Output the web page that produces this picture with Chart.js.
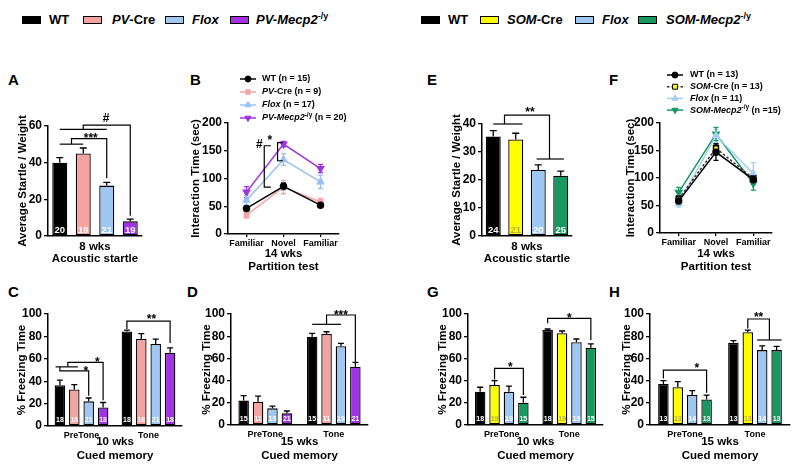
<!DOCTYPE html>
<html>
<head>
<meta charset="utf-8">
<script src="https://cdn.jsdelivr.net/npm/chart.js@4.4.1/dist/chart.umd.min.js"></script>
<style>
    body { margin: 0; background: #fff; }
    #fig { position: relative; width: 799px; height: 472px; overflow: hidden; font-family: "Liberation Sans", Arial, sans-serif; }
    #fig canvas { position: absolute; }
    .box { position: absolute; top: 16px; width: 17px; height: 6px; border: 1px solid #000; }
    .key { position: absolute; top: 12px; font-size: 13px; font-weight: bold; line-height: 16px; white-space: nowrap; }
    .key sup { font-size: 9px; line-height: 0; font-style: normal; }
    .tag { position: absolute; font-size: 15px; font-weight: bold; line-height: 18px; }
</style>
</head>
<body>
<div id="fig">
    <div class="box" style="left:22px;background:#000"></div><div class="key" style="left:49px">WT</div>
    <div class="box" style="left:83px;background:#f5a3a1"></div><div class="key" style="left:112px"><i>PV</i>-Cre</div>
    <div class="box" style="left:165px;background:#9fc7f2"></div><div class="key" style="left:192px"><i>Flox</i></div>
    <div class="box" style="left:230px;background:#a233e4"></div><div class="key" style="left:256px"><i>PV-Mecp2</i><sup>-/y</sup></div>

    <div class="box" style="left:421px;background:#000"></div><div class="key" style="left:448px">WT</div>
    <div class="box" style="left:480px;background:#ffff00"></div><div class="key" style="left:507px"><i>SOM</i>-Cre</div>
    <div class="box" style="left:575px;background:#9fc7f2"></div><div class="key" style="left:602px"><i>Flox</i></div>
    <div class="box" style="left:638px;background:#16985f"></div><div class="key" style="left:666px"><i>SOM-Mecp2</i><sup>-/y</sup></div>

    <div class="tag" style="left:8px;top:71px">A</div>
    <div class="tag" style="left:190px;top:71px">B</div>
    <div class="tag" style="left:427px;top:71px">E</div>
    <div class="tag" style="left:609px;top:71px">F</div>
    <div class="tag" style="left:8px;top:283px">C</div>
    <div class="tag" style="left:187px;top:283px">D</div>
    <div class="tag" style="left:427px;top:283px">G</div>
    <div class="tag" style="left:609px;top:283px">H</div>
</div>
<script>
// groups
const pvGroups = ["WT", "PV-Cre", "Flox", "PV-Mecp2"];
const somGroups = ["WT", "SOM-Cre", "Flox", "SOM-Mecp2"];

// A / E : acoustic startle
const startlePV = [40, 45, 27.5, 8];
const startlePVErr = [2.7, 3, 1.8, 1.2];
const startlePVN = [20, 19, 21, 19];
const startleSOM = [35.5, 34.5, 23.6, 21.5];
const startleSOMErr = [2.1, 2.2, 1.8, 1.7];
const startleSOMN = [24, 21, 20, 25];
const startlePVTicks = [0, 20, 40, 60];
const startleSOMTicks = [0, 10, 20, 30, 40];

// B / F : partition test
const partitionLabels = ["Familiar", "Novel", "Familiar"];
const partitionTicks = [0, 50, 100, 150, 200];
const partPV = [[46, 86, 52], [34, 84.5, 57.7], [61, 134, 94], [75.5, 162, 118]];
const partPVErr = [[4, 6, 4], [5, 12, 7], [9, 10.5, 12], [10, 5, 7.5]];
const partPVN = [15, 9, 17, 20];
const partSOM = [[58, 147, 97], [62, 154, 99], [54, 177, 108], [74, 180, 90]];
const partSOMErr = [[7, 15, 8], [6, 8, 8], [7, 12, 20], [9, 12, 12]];
const partSOMN = [13, 13, 11, 15];

// C / D / G / H : cued memory
const cuedLabels = ["PreTone", "Tone"];
const cuedTicks = [0, 20, 40, 60, 80, 100];
const cuedPV10 = [[36.4, 84.4], [32.6, 78], [22, 73.2], [16.5, 65.4]];
const cuedPV10Err = [[4.6, 1.2], [4.4, 4.5], [3, 4.4], [4.5, 4.4]];
const cuedPV10N = [18, 18, 21, 18];
const cuedPV15 = [[22, 79.6], [21, 82], [15, 71], [10.5, 52.5]];
const cuedPV15Err = [[4.4, 3], [5, 2], [2, 2.6], [2.1, 4]];
const cuedPV15N = [15, 11, 19, 21];
const cuedSOM10 = [[30, 85.5], [36, 82.6], [30, 74.5], [20, 69.6]];
const cuedSOM10Err = [[4, 1], [4, 2.1], [5, 3], [5, 3.4]];
const cuedSOM10N = [18, 19, 19, 15];
const cuedSOM15 = [[37, 74], [34, 83.5], [27, 67.5], [23, 67.5]];
const cuedSOM15Err = [[3, 2], [5, 2], [4, 3.7], [4, 3.3]];
const cuedSOM15N = [13, 13, 14, 13];

const FONT = "'Liberation Sans', Arial, sans-serif";
const pvColors = ["#000000", "#f5a3a1", "#9fc7f2", "#a233e4"];
const somColors = ["#000000", "#ffff00", "#9fc7f2", "#16985f"];
const PAD_L = 70, PAD_T = 60, PAD_R = 24, PAD_B = 60;

Chart.defaults.font.family = FONT;
Chart.defaults.color = "#000";

function xAt(chart, p) {
    if (p.length === 2) return chart.scales.x.getPixelForValue(p[0]);
    const a = chart.getDatasetMeta(0).data[p[0]].x;
    const b = chart.getDatasetMeta(1).data[p[0]].x;
    return a + p[1] * (b - a);
}

function drawErrors(chart, both, cap) {
    const ctx = chart.ctx;
    const ys = chart.scales.y;
    chart.data.datasets.forEach((ds, i) => {
        ctx.save();
        ctx.strokeStyle = ds.errColor || "#000";
        ctx.lineWidth = 1.3;
        chart.getDatasetMeta(i).data.forEach((el, j) => {
            const v = ds.data[j];
            const top = ys.getPixelForValue(v + ds.err[j]);
            const bot = ys.getPixelForValue(both ? v - ds.err[j] : v);
            ctx.beginPath();
            ctx.moveTo(el.x, bot);
            ctx.lineTo(el.x, top);
            ctx.moveTo(el.x - cap / 2, top);
            ctx.lineTo(el.x + cap / 2, top);
            if (both) {
                ctx.moveTo(el.x - cap / 2, bot);
                ctx.lineTo(el.x + cap / 2, bot);
            }
            ctx.stroke();
        });
        ctx.restore();
    });
}

const errorBars = {
    id: "errorBars",
    beforeDatasetsDraw(chart, args, opts) {
        if (chart.config.type === "line") drawErrors(chart, true, opts.cap || 5);
    },
    afterDatasetsDraw(chart, args, opts) {
        if (chart.config.type === "bar") drawErrors(chart, false, opts.cap || 6);
    },
};

const countLabels = {
    id: "countLabels",
    afterDatasetsDraw(chart, args, opts) {
        const ctx = chart.ctx;
        ctx.save();
        ctx.font = "bold " + opts.size + "px " + FONT;
        ctx.textAlign = "center";
        ctx.textBaseline = "middle";
        chart.data.datasets.forEach((ds, i) => {
            chart.getDatasetMeta(i).data.forEach((el, j) => {
                ctx.fillStyle = Array.isArray(ds.nColor) ? ds.nColor[j] : ds.nColor;
                ctx.fillText(String(ds.n[j]), el.x, el.base - opts.lift);
            });
        });
        ctx.restore();
    },
};

const brackets = {
    id: "brackets",
    afterDraw(chart, args, opts) {
        const ctx = chart.ctx;
        const yAt = (p) => chart.scales.y.getPixelForValue(p[p.length - 1]);
        ctx.save();
        ctx.strokeStyle = "#000";
        ctx.lineWidth = 1.2;
        (opts.paths || []).forEach((path) => {
            ctx.beginPath();
            path.forEach((p, k) => {
                if (k) ctx.lineTo(xAt(chart, p), yAt(p));
                else ctx.moveTo(xAt(chart, p), yAt(p));
            });
            ctx.stroke();
        });
        ctx.fillStyle = "#000";
        ctx.textAlign = "center";
        ctx.textBaseline = "alphabetic";
        ctx.font = "bold 12px " + FONT;
        (opts.marks || []).forEach(([t, ...p]) => {
            const lift = t[0] === "#" ? 0.36 : 0.57;
            ctx.fillText(t, xAt(chart, p), yAt(p) + lift * 12);
        });
        ctx.restore();
    },
};

function richText(ctx, parts, x, y, size) {
    parts.forEach(([txt, style]) => {
        const sup = style.includes("s");
        const fs = sup ? size * 0.72 : size;
        ctx.font = (style.includes("i") ? "italic " : "") + "bold " + fs + "px " + FONT;
        ctx.fillText(txt, x, sup ? y - size * 0.35 : y);
        x += ctx.measureText(txt).width;
    });
}

const lineLegend = {
    id: "lineLegend",
    afterDraw(chart, args, opts) {
        const ctx = chart.ctx;
        const x0 = chart.chartArea.left + opts.dx;
        chart.data.datasets.forEach((ds, i) => {
            const y = chart.chartArea.top + opts.dy + i * opts.step;
            ctx.save();
            ctx.strokeStyle = ds.borderColor;
            ctx.lineWidth = ds.borderWidth;
            ctx.setLineDash(ds.borderDash || []);
            ctx.beginPath();
            ctx.moveTo(x0 - 8, y);
            ctx.lineTo(x0 + 8, y);
            ctx.stroke();
            ctx.setLineDash([]);
            ctx.fillStyle = ds.pointBackgroundColor;
            ctx.strokeStyle = ds.pointBorderColor;
            ctx.lineWidth = 1;
            Chart.helpers.drawPoint(ctx, {
                pointStyle: ds.pointStyle,
                rotation: ds.pointRotation || 0,
                radius: ds.pointRadius,
                borderWidth: 1,
            }, x0, y);
            ctx.fillStyle = "#000";
            ctx.textAlign = "left";
            ctx.textBaseline = "middle";
            richText(ctx, ds.legend, x0 + opts.textDx, y, opts.size);
            ctx.restore();
        });
    },
};

function addCanvas(area) {
    const c = document.createElement("canvas");
    c.width = area[2] - area[0] + PAD_L + PAD_R;
    c.height = area[3] - area[1] + PAD_T + PAD_B;
    c.style.left = (area[0] - PAD_L) + "px";
    c.style.top = (area[1] - PAD_T) + "px";
    document.getElementById("fig").appendChild(c);
    return c;
}

function yAxis(area, ticks, title, titleX) {
    const lh = 13;
    return {
        min: 0,
        max: ticks[ticks.length - 1],
        afterBuildTicks: (s) => { s.ticks = ticks.map((v) => ({ value: v })); },
        ticks: { padding: 2, font: { size: 12, weight: "bold" } },
        grid: { drawOnChartArea: false, tickLength: 4, color: "#000", lineWidth: 1.3 },
        border: { color: "#000", width: 1.5 },
        title: {
            display: true,
            text: title,
            font: { size: 11.5, weight: "bold", lineHeight: lh + "px" },
            padding: { top: titleX - (area[0] - PAD_L) - lh / 2, bottom: 0 },
        },
        afterFit: (s) => { s.width = PAD_L; },
    };
}

function xAxis(area, title, titleY, lh, showLabels, showTicks) {
    return {
        offset: true,
        ticks: { display: showLabels, padding: 1, font: { size: 9, weight: "bold" }, maxRotation: 0, autoSkip: false },
        grid: { display: showTicks, drawOnChartArea: false, tickLength: 3, color: "#000", lineWidth: 1.3 },
        border: { color: "#000", width: 1.5 },
        title: {
            display: true,
            text: title,
            font: { size: 11.5, weight: "bold", lineHeight: lh + "px" },
            padding: { top: 0, bottom: area[3] + PAD_B - titleY - lh / 2 },
        },
        afterFit: (s) => { s.height = PAD_B; },
    };
}

function baseOptions(x, y, plugins) {
    return {
        responsive: false,
        animation: false,
        layout: { padding: { left: 0, top: PAD_T, right: PAD_R, bottom: 0 } },
        plugins: Object.assign({ legend: { display: false }, tooltip: { enabled: false } }, plugins),
        scales: { x: x, y: y },
    };
}

function startlePanel(area, groups, values, errs, ns, colors, nColors, ticks, titleX, marks) {
    new Chart(addCanvas(area), {
        type: "bar",
        data: {
            labels: groups,
            datasets: [{
                data: values,
                err: errs,
                n: ns,
                nColor: nColors,
                backgroundColor: colors,
                borderColor: "#000",
                borderWidth: 1.3,
                borderSkipped: false,
                categoryPercentage: 1,
                barPercentage: 15 / ((area[2] - area[0]) / 4),
            }],
        },
        options: baseOptions(
            xAxis(area, ["8 wks", "Acoustic startle"], 259, 12.6, false, false),
            yAxis(area, ticks, "Average Startle / Weight", titleX),
            { errorBars: { cap: 7 }, countLabels: { size: 9.5, lift: 5 }, brackets: marks }
        ),
        plugins: [errorBars, countLabels, brackets],
    });
}

function partitionPanel(area, groups, values, errs, ns, styles, titleX, legendPos, marks) {
    new Chart(addCanvas(area), {
        type: "line",
        data: {
            labels: partitionLabels,
            datasets: groups.map((g, i) => Object.assign({
                label: g,
                data: values[i],
                err: errs[i],
                borderWidth: 1.5,
                tension: 0,
                fill: false,
                legend: styles[i].name.concat([[(styles[i].nText || " (n = ") + ns[i] + ")", ""]]),
            }, styles[i].look)),
        },
        options: baseOptions(
            xAxis(area, ["14 wks", "Partition test"], 267, 13, true, true),
            yAxis(area, partitionTicks, "Interaction Time (sec)", titleX),
            { errorBars: { cap: 5 }, lineLegend: legendPos, brackets: marks }
        ),
        plugins: [errorBars, lineLegend, brackets],
    });
}

function cuedPanel(area, groups, values, errs, ns, colors, nColors, weeks, titleX, marks) {
    new Chart(addCanvas(area), {
        type: "bar",
        data: {
            labels: cuedLabels,
            datasets: groups.map((g, i) => ({
                label: g,
                data: values[i],
                err: errs[i],
                n: [ns[i], ns[i]],
                nColor: nColors[i],
                backgroundColor: colors[i],
                borderColor: "#000",
                borderWidth: 1.3,
                borderSkipped: false,
                categoryPercentage: 115.2 / (area[2] - area[0]),
                barPercentage: 0.73,
            })),
        },
        options: baseOptions(
            xAxis(area, [weeks, "Cued memory"], 456, 14, true, false),
            yAxis(area, cuedTicks, "% Freezing Time", titleX),
            { errorBars: { cap: 6 }, countLabels: { size: 7, lift: 5 }, brackets: marks }
        ),
        plugins: [errorBars, countLabels, brackets],
    });
}

document.addEventListener("DOMContentLoaded", function () {
    const white4 = ["#fff", "#fff", "#fff", "#fff"];
    const somN = ["#fff", "#b8b040", "#fff", "#fff"];

    // A
    startlePanel([48, 126, 142, 236], pvGroups, startlePV, startlePVErr, startlePVN, pvColors, white4,
        startlePVTicks, 23, {
            paths: [
                [[0, 58.2], [2, 58.2]],
                [[1, 58.2], [1, 60.5], [3, 60.5], [3, 11]],
                [[0, 50.1], [1, 50.1]],
                [[0.5, 50.1], [0.5, 53.1], [2, 53.1], [2, 31.5]],
            ],
            marks: [["#", 1.97, 64.3], ["***", 1.32, 55.2]],
        });

    // E
    startlePanel([482, 124, 572, 236], somGroups, startleSOM, startleSOMErr, startleSOMN, somColors, somN,
        startleSOMTicks, 457, {
            paths: [
                [[0, 40], [1.3, 40]],
                [[0.5, 40], [0.5, 43.2], [2.5, 43.2], [2.5, 27.5]],
                [[1.93, 27.5], [3.14, 27.5]],
            ],
            marks: [["**", 1.63, 45.4]],
        });

    // B
    partitionPanel([228, 123, 339, 234], pvGroups, partPV, partPVErr, partPVN, [
        { name: [["WT", ""]], look: { borderColor: "#000", errColor: "#000", pointBackgroundColor: "#000", pointBorderColor: "#000", pointStyle: "circle", pointRadius: 3 } },
        { name: [["PV", "i"], ["-Cre", ""]], look: { borderColor: "#f4a6a6", errColor: "#f4a6a6", pointBackgroundColor: "#f4a6a6", pointBorderColor: "#f4a6a6", pointStyle: "rect", pointRadius: 3.2 } },
        { name: [["Flox", "i"]], look: { borderColor: "#98c0f0", errColor: "#98c0f0", pointBackgroundColor: "#98c0f0", pointBorderColor: "#98c0f0", pointStyle: "triangle", pointRadius: 3.6 } },
        { name: [["PV-Mecp2", "i"], ["-/y", "s"]], look: { borderColor: "#a033e0", errColor: "#a033e0", pointBackgroundColor: "#a033e0", pointBorderColor: "#a033e0", pointStyle: "triangle", pointRotation: 180, pointRadius: 3.6 } },
    ], 196, { dx: 20, dy: -44, step: 13, textDx: 14, size: 9 }, {
        paths: [
            [[0.98, 164.8], [0.84, 164.8], [0.84, 132], [0.98, 132]],
            [[0.66, 159], [0.48, 159], [0.48, 84.5], [0.66, 84.5]],
        ],
        marks: [["*", 0.63, 174], ["#", 0.35, 162]],
    });

    // F
    partitionPanel([660, 123, 772, 233], somGroups, partSOM, partSOMErr, partSOMN, [
        { name: [["WT", ""]], look: { borderColor: "#000", errColor: "#000", pointBackgroundColor: "#000", pointBorderColor: "#000", pointStyle: "circle", pointRadius: 3 } },
        { name: [["SOM", "i"], ["-Cre", ""]], look: { borderColor: "#333", borderDash: [2.5, 2], errColor: "#000", pointBackgroundColor: "#ffff00", pointBorderColor: "#000", pointStyle: "rect", pointRadius: 3.5 } },
        { name: [["Flox", "i"]], look: { borderColor: "#a8cdf2", errColor: "#a8cdf2", pointBackgroundColor: "#a8cdf2", pointBorderColor: "#a8cdf2", pointStyle: "triangle", pointRadius: 3.6 } },
        { name: [["SOM-Mecp2", "i"], ["-/y", "s"]], nText: " (n =", look: { borderColor: "#16985f", errColor: "#16985f", pointBackgroundColor: "#16985f", pointBorderColor: "#16985f", pointStyle: "triangle", pointRotation: 180, pointRadius: 3.6 } },
    ], 631, { dx: 15, dy: -48, step: 11.7, textDx: 15, size: 9 }, {});

    // C
    cuedPanel([48, 314, 182, 426], pvGroups, cuedPV10, cuedPV10Err, cuedPV10N, pvColors, white4, "10 wks", 22, {
        paths: [
            [[1, 0, 86.6], [1, 0, 93.7], [1, 3, 93.7], [1, 3, 74]],
            [[0, -0.3, 52.8], [0, 1.25, 52.8]],
            [[0, 0.55, 52.8], [0, 0.55, 56.8], [0, 3, 56.8], [0, 3, 23]],
            [[0, 0, 52.8], [0, 0, 49.2], [0, 2, 49.2], [0, 2, 27]],
        ],
        marks: [["**", 1, 1.7, 98.5], ["*", 0, 2.6, 59.5], ["*", 0, 1.8, 52]],
    });

    // D
    cuedPanel([231, 314, 368, 425], pvGroups, cuedPV15, cuedPV15Err, cuedPV15N, pvColors, white4, "15 wks", 206.7, {
        paths: [
            [[1, 0, 90.7], [1, 2, 90.7]],
            [[1, 1, 90.7], [1, 1, 99.1], [1, 3, 99.1], [1, 3, 57]],
        ],
        marks: [["***", 1, 2, 102]],
    });

    // G
    cuedPanel([468, 314, 603, 425], somGroups, cuedSOM10, cuedSOM10Err, cuedSOM10N, somColors, somN, "10 wks", 442.5, {
        paths: [
            [[1, 0, 91.6], [1, 0, 96], [1, 3, 96], [1, 3, 76.6]],
            [[0, 1, 41], [0, 1, 51], [0, 3, 51], [0, 3, 27]],
        ],
        marks: [["*", 1, 1.5, 99], ["*", 0, 2.1, 54.5]],
    });

    // H
    cuedPanel([650, 314, 790, 425], somGroups, cuedSOM15, cuedSOM15Err, cuedSOM15N, somColors, somN, "15 wks", 626.7, {
        paths: [
            [[1, 1, 87], [1, 1, 95.5], [1, 2.5, 95.5], [1, 2.5, 76.6]],
            [[1, 1.65, 76.6], [1, 3.35, 76.6]],
            [[0, 0, 42], [0, 0, 49.5], [0, 3, 49.5], [0, 3, 29]],
        ],
        marks: [["**", 1, 1.75, 100], ["*", 0, 2.32, 53.5]],
    });
});
</script>
</body>
</html>
